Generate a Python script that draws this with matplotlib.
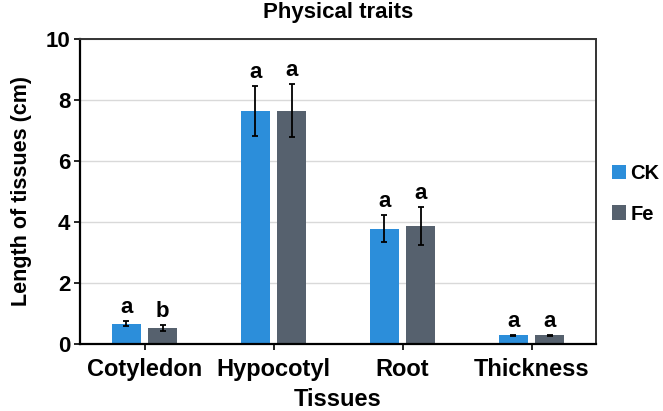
import matplotlib
matplotlib.use("Agg")
import matplotlib.pyplot as plt
import numpy as np

categories = ["Cotyledon", "Hypocotyl", "Root", "Thickness"]
ck_values = [0.66, 7.65, 3.78, 0.28]
ck_errors = [0.08, 0.82, 0.45, 0.02]
fe_values = [0.52, 7.65, 3.88, 0.29]
fe_errors = [0.09, 0.87, 0.62, 0.02]
ck_letters = ["a", "a", "a", "a"]
fe_letters = ["b", "a", "a", "a"]
y_ticks = [0, 2, 4, 6, 8, 10]

plt.rcParams['font.family'] = ['Liberation Sans', 'DejaVu Sans']
plt.rcParams['font.weight'] = 'bold'

fig = plt.figure(figsize=(6.63, 4.11), dpi=100)
ax = fig.add_axes([80/663, 1-344/411, (596-80)/663, (344-39)/411])

x = np.arange(len(categories))
w = 0.225
off = 0.142
ck_col = "#2C8EDA"
fe_col = "#56616E"

ax.bar(x - off, ck_values, w, color=ck_col, label="CK", zorder=2)
ax.bar(x + off, fe_values, w, color=fe_col, label="Fe", zorder=2)
ax.errorbar(x - off, ck_values, yerr=ck_errors, fmt='none', ecolor='black',
            elinewidth=1.3, capsize=2.5, capthick=1.3, zorder=3)
ax.errorbar(x + off, fe_values, yerr=fe_errors, fmt='none', ecolor='black',
            elinewidth=1.3, capsize=2.5, capthick=1.3, zorder=3)

for i in range(len(categories)):
    ax.annotate(ck_letters[i], (x[i] - off, ck_values[i] + ck_errors[i]),
                xytext=(0, 8), textcoords='offset pixels', ha='center',
                va='baseline', fontsize=16, fontweight='bold')
    ax.annotate(fe_letters[i], (x[i] + off, fe_values[i] + fe_errors[i]),
                xytext=(0, 8), textcoords='offset pixels', ha='center',
                va='baseline', fontsize=16, fontweight='bold')

ax.set_xlim(-0.5, 3.5)
ax.set_ylim(0, 10)
ax.set_yticks(y_ticks)
ax.set_yticklabels([str(t) for t in y_ticks], fontsize=16, fontweight='bold')
ax.set_xticks(x)
ax.set_xticklabels(categories, fontsize=17, fontweight='bold')
ax.yaxis.grid(True, color='#d9d9d9', linewidth=1, zorder=0)
ax.set_axisbelow(True)
for s in ['left', 'bottom']:
    ax.spines[s].set_linewidth(1.6)
    ax.spines[s].set_color('black')
for s in ['top', 'right']:
    ax.spines[s].set_linewidth(1.4)
    ax.spines[s].set_color('#333333')
ax.tick_params(axis='y', length=4, width=1.2, pad=3)
ax.tick_params(axis='x', length=4, width=1.2, pad=6)

ax.set_title("Physical traits", fontsize=16, fontweight='bold', pad=15)
ax.set_xlabel("Tissues", fontsize=17, fontweight='bold', labelpad=5)
ax.set_ylabel("Length of tissues (cm)", fontsize=15.5, fontweight='bold', labelpad=10)

leg = ax.legend(loc='center left', bbox_to_anchor=(612/663, 1 - 194/411),
                bbox_transform=fig.transFigure, frameon=False,
                prop={'size': 14.5, 'weight': 'bold'}, handlelength=0.7,
                handleheight=0.7, handletextpad=0.2, labelspacing=1.05,
                borderpad=0, borderaxespad=0)

fig.savefig("out.png", dpi=100)
